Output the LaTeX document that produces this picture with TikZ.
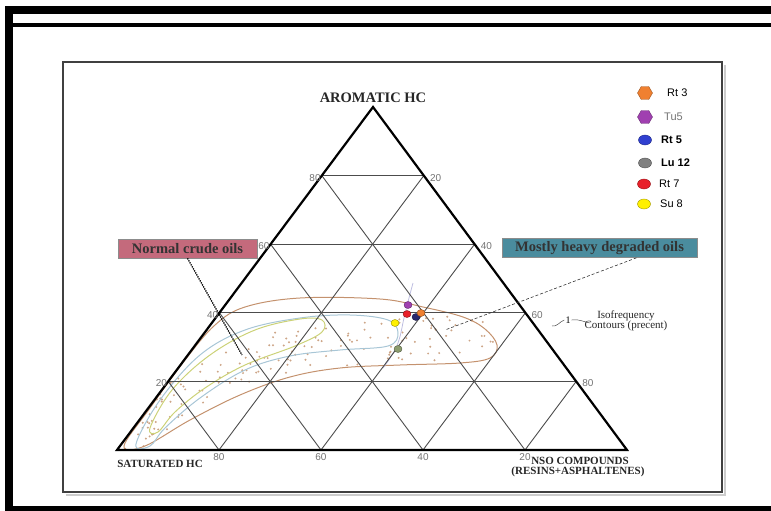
\documentclass[tikz,border=0pt]{standalone}
\usepackage{fontspec}
\setmainfont{Liberation Serif}
\setsansfont{Liberation Sans}
\usepackage{tikz}
\usetikzlibrary{calc,shapes.geometric}
\definecolor{boxrose}{RGB}{196,106,124}
\definecolor{boxteal}{RGB}{74,140,158}
\definecolor{contbrown}{RGB}{196,146,110}
\definecolor{contblue}{RGB}{168,198,214}
\definecolor{contgreen}{RGB}{204,210,120}
\definecolor{contlilac}{RGB}{190,190,225}
\definecolor{dotbrown}{RGB}{205,165,135}
\definecolor{ptorange}{RGB}{240,128,48}
\definecolor{ptpurple}{RGB}{160,64,176}
\definecolor{ptblue}{RGB}{48,64,208}
\definecolor{ptnavy}{RGB}{40,40,110}
\definecolor{ptgray}{RGB}{128,128,128}
\definecolor{ptolive}{RGB}{140,156,110}
\definecolor{ptred}{RGB}{232,32,42}
\definecolor{ptyellow}{RGB}{255,240,0}
\newcommand{\fsize}[1]{\fontsize{#1}{#1}\selectfont}

\begin{document}
\begin{tikzpicture}[x=1pt, y=-1pt,
  grid/.style={draw=black!70, line width=0.9pt},
  edge/.style={draw=black, line width=2.2pt},
  contour/.style={draw=#1, line width=1pt},
  tick/.style={font=\sffamily\fsize{10}, text=black!55, inner sep=0pt},
  axis/.style={font=\bfseries\fsize{11}, text=black!85, inner sep=0pt},
  labelbox/.style={draw=black!45, line width=0.6pt, fill=#1, minimum height=19pt,
    inner sep=0pt, font=\bfseries\fsize{14.5}, text=black!80},
  sample/.style={ellipse, draw=#1!65!black, fill=#1, inner sep=0pt,
    minimum width=13pt, minimum height=10pt},
  hexsample/.style={regular polygon, regular polygon sides=6, draw=#1!65!black,
    fill=#1, inner sep=0pt, minimum size=15pt},
  point/.style={ellipse, draw=#1!60!black, fill=#1, inner sep=0pt,
    minimum width=8pt, minimum height=7pt},
  legend/.style={font=\sffamily\fsize{11}, anchor=west, inner sep=0pt}]
  \useasboundingbox (0,0) rectangle (771,511);

  \fill [black] (5,6) rectangle (13,511);
  \fill [black] (5,6) rectangle (771,14);
  \fill [black] (13,23) rectangle (771,27);
  \fill [black] (5,506) rectangle (771,511);
  \draw [black!20, line width=1.2pt] (66,495) -- (725,495) -- (725,65);
  \draw [black!75, line width=2.5pt] (63,62) rectangle (722,492);

  \coordinate (S) at (117,450);
  \coordinate (N) at (627,450);
  \coordinate (A) at (373,107);

  \begin{scope}
    \clip (S) -- (N) -- (A) -- cycle;
    \pgfmathsetseed{4}
    \foreach \i in {1,...,160} {
      \pgfmathsetmacro{\px}{125+375*pow(rnd,1.3)}
      \pgfmathsetmacro{\py}{336+100*exp(-(\px-140)/80)+22*rand}
      \fill [dotbrown] (\px,\py) circle (1.1);
    }
  \end{scope}

  \draw [contour=contbrown] plot [smooth cycle, tension=0.6] coordinates {
    (124,446) (150,408) (185,360) (215,325) (245,307) (300,298) (380,299)
    (423,307) (463,317) (485,329) (497,345) (490,358) (460,363) (400,365)
    (340,368) (290,377) (240,395) (190,420) (145,446)};
  \draw [contour=contblue] plot [smooth cycle, tension=0.6] coordinates {
    (136,444) (160,400) (200,355) (245,330) (300,318) (350,315) (388,320)
    (398,333) (388,346) (340,350) (290,356) (245,370) (200,398) (165,428)
    (150,446)};
  \draw [contour=contgreen] plot [smooth cycle, tension=0.6] coordinates {
    (150,428) (172,390) (210,355) (255,330) (300,319) (322,320) (322,332)
    (295,346) (245,365) (205,388) (175,412) (158,432)};
  \draw [contlilac, line width=0.8pt] plot [smooth, tension=0.7] coordinates {
    (413,283) (409,298) (404,318) (399,340) (392,355) (383,368)};

  \foreach \k in {0.2,0.4,0.6,0.8} {
    \draw [grid] ($(S)!\k!(A)$) -- ($(N)!\k!(A)$);
    \draw [grid] ($(S)!\k!(N)$) -- ($(S)!\k!(A)$);
    \draw [grid] ($(S)!\k!(N)$) -- ($(N)!1-\k!(A)$);
  }
  \draw [edge] (S) -- (N) -- (A) -- cycle;

  \foreach \k/\v/\w in {0.2/20/80, 0.4/40/60, 0.6/60/40, 0.8/80/20} {
    \node [tick, anchor=east] (left-\v) at ($(S)!\k!(A)+(-1,2)$) {\v};
    \node [tick, anchor=west] (right-\w) at ($(N)!\k!(A)+(6,2)$) {\w};
    \node [tick, anchor=north] (base-\w) at ($(S)!\k!(N)+(0,3)$) {\w};
  }

  \node [axis, font=\bfseries\fsize{14.5}] (arom) at (373,98) {AROMATIC HC};
  \node [axis] (sat) at (160,464) {SATURATED HC};
  \node [axis] (nso) at (580,461) {NSO COMPOUNDS};
  \node [axis] (resins) at (578,472) {(RESINS+ASPHALTENES)};

  \node [labelbox=boxrose, minimum width=139pt] (normal) at (187.5,248.5) {Normal crude oils};
  \node [labelbox=boxteal, minimum width=195pt] (heavy) at (599.5,248) {Mostly heavy degraded oils};
  \coordinate (normal-tip) at (242,355);
  \coordinate (heavy-tip) at (445,330);
  \draw [black, line width=1.3pt, densely dotted] (normal.south) -- (normal-tip);
  \draw [black!80, line width=0.6pt, densely dashed] ([xshift=37pt]heavy.south) -- (heavy-tip);

  \node [font=\fsize{10}, inner sep=1pt] (iso-one) at (568,320) {1};
  \coordinate (iso-start) at (552,326);
  \coordinate (iso-end) at (590,323);
  \draw [black!70, line width=0.5pt] (iso-start) to [out=-10, in=200] (iso-one.west);
  \draw [black!70, line width=0.5pt] (iso-one.east) to [out=10, in=170] (iso-end);
  \node [font=\fsize{11}, align=center, inner sep=0pt, text=black!85] (iso-text) at (626,321)
    {Isofrequency\\[-1pt]Contours (precent)};

  \node [hexsample=ptorange] (key-rt3) at (645,93) {};
  \node [hexsample=ptpurple] (key-tu5) at (645,117) {};
  \node [sample=ptblue] (key-rt5) at (645,140) {};
  \node [sample=ptgray] (key-lu12) at (645,163) {};
  \node [sample=ptred] (key-rt7) at (644,184) {};
  \node [sample=ptyellow] (key-su8) at (644,204) {};
  \node [legend] (txt-rt3) at (667,93) {Rt 3};
  \node [legend, text=black!55] (txt-tu5) at (664,117) {Tu5};
  \node [legend, font=\sffamily\bfseries\fsize{11}] (txt-rt5) at (661,140) {Rt 5};
  \node [legend, font=\sffamily\bfseries\fsize{11}] (txt-lu12) at (661,163) {Lu 12};
  \node [legend] (txt-rt7) at (659,184) {Rt 7};
  \node [legend] (txt-su8) at (660,204) {Su 8};

  \node [point=ptpurple] (p-tu5) at (408,305) {};
  \node [point=ptred] (p-rt7) at (407,314) {};
  \node [point=ptnavy] (p-rt5) at (416,317) {};
  \node [point=ptorange] (p-rt3) at (421,313) {};
  \node [point=ptyellow] (p-su8) at (395,323) {};
  \node [point=ptolive] (p-lu12) at (398,349) {};
\end{tikzpicture}
\end{document}
